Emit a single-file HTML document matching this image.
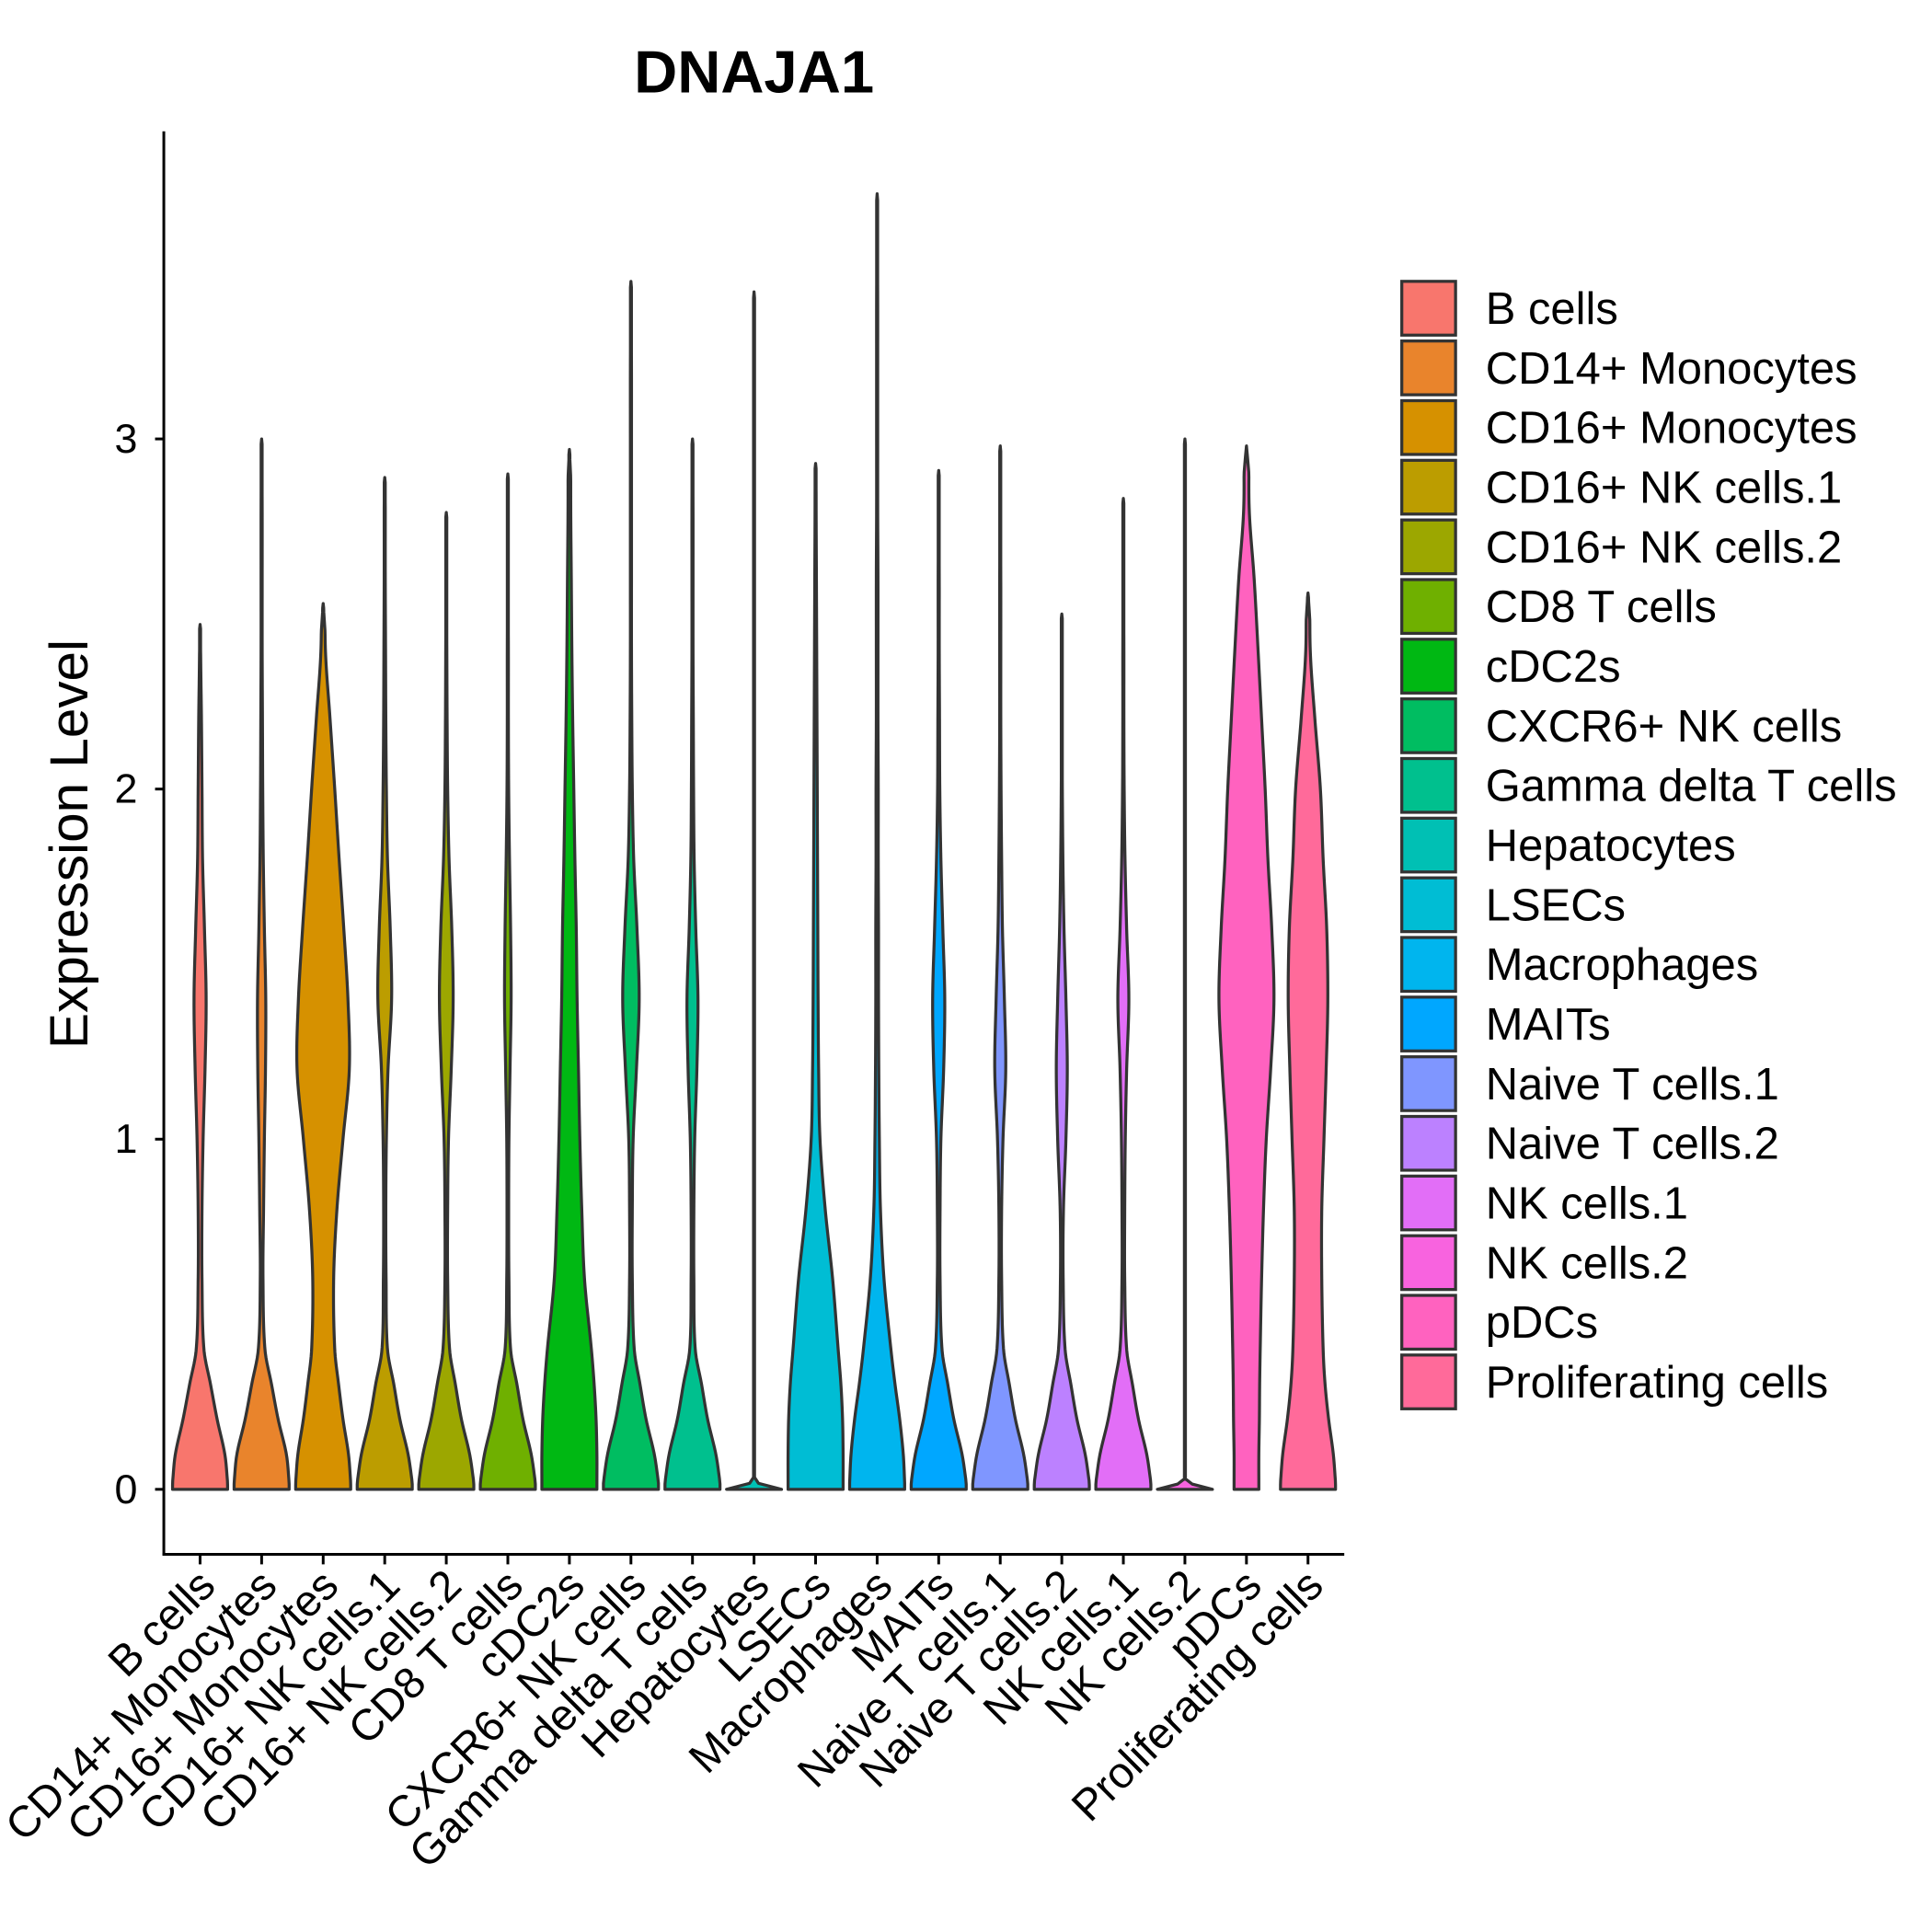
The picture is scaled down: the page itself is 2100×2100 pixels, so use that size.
<!DOCTYPE html>
<html><head><meta charset="utf-8"><style>html,body{margin:0;padding:0;background:#fff}svg{display:block}text{font-family:"Liberation Sans",Arial,sans-serif;fill:#000}</style></head>
<body>
<svg id="chart" width="2100" height="2100" viewBox="0 0 1545 1545" xmlns="http://www.w3.org/2000/svg">
<text x="603" y="74" font-size="48" font-weight="bold" text-anchor="middle">DNAJA1</text>
<text x="0" y="0" font-size="43" text-anchor="middle" transform="translate(70,675) rotate(-90)">Expression Level</text>
<g id="violins"></g>
<line x1="131" y1="105" x2="131" y2="1244" stroke="#000" stroke-width="2.2"/>
<line x1="130" y1="1243" x2="1075" y2="1243" stroke="#000" stroke-width="2.2"/>
<g id="yticks"></g>
<g id="xticks"></g>
<g id="legend"></g>
</svg>
<script>
const categories=["B cells","CD14+ Monocytes","CD16+ Monocytes","CD16+ NK cells.1","CD16+ NK cells.2","CD8 T cells","cDC2s","CXCR6+ NK cells","Gamma delta T cells","Hepatocytes","LSECs","Macrophages","MAITs","Naive T cells.1","Naive T cells.2","NK cells.1","NK cells.2","pDCs","Proliferating cells"];
const colors=["#F8766D","#E9842C","#D69100","#BC9D00","#9CA700","#6FB000","#00B813","#00BD61","#00C08E","#00C0B4","#00BDD4","#00B5EE","#00A7FF","#7F96FF","#BC81FF","#E26EF7","#F863DF","#FF62BF","#FF6A9A"];
const maxValues=[2.47,3.0,2.53,2.89,2.79,2.9,2.97,3.45,3.0,3.42,2.93,3.7,2.91,2.98,2.5,2.83,3.0,2.98,2.56];
const yGrid=[0,0.02,0.1,0.2,0.3,0.4,0.6,0.8,1.0,1.2,1.4,1.6,1.8,2.0,2.2,2.4,2.6,2.8,3.0,3.2,3.4,3.6];
const densities=[
[1,1,.9,.62,.38,.14,.07,.07,.11,.18,.22,.16,.09,.07,.05,.02],
[1,1,.9,.6,.36,.12,.05,.07,.1,.14,.15,.1,.06,.04,.03,.02,.02,.02,.01],
[1,1,.92,.72,.56,.42,.38,.5,.72,.95,.9,.75,.58,.42,.25,.08],
[1,1,.85,.55,.33,.1,.05,.04,.06,.12,.25,.2,.1,.06,.04,.03,.02,.02],
[1,1,.85,.55,.33,.12,.05,.05,.08,.18,.25,.2,.1,.05,.03,.02,.01],
[1,1,.85,.55,.33,.1,.04,.03,.04,.08,.12,.1,.06,.03,.02,.02,.01],
[1,1,1,.97,.9,.8,.55,.45,.38,.33,.28,.25,.2,.16,.12,.09,.07,.05],
[1,1,.85,.55,.33,.12,.05,.05,.08,.2,.3,.22,.1,.05,.03,.02,.02,.02,.02,.02,.01],
[1,1,.85,.55,.33,.1,.05,.05,.08,.16,.2,.12,.06,.04,.03,.02,.02,.02,.01],
[1,.02,.01,.01,.01,.01,.01,.01,.01,.01,.01,.01,.01,.01,.01,.01,.01,.01,.01,.01,.01],
[1,1,1,.98,.92,.82,.62,.35,.16,.11,.09,.08,.07,.06,.05,.04,.03,.02],
[1,1,.95,.82,.65,.5,.25,.12,.08,.06,.05,.05,.04,.04,.03,.03,.03,.02,.02,.02,.02,.01],
[1,1,.85,.55,.33,.12,.05,.05,.08,.18,.22,.15,.08,.04,.03,.02,.02,.01],
[1,1,.85,.55,.33,.12,.05,.05,.1,.2,.15,.08,.05,.03,.02,.02,.02,.01],
[1,1,.85,.55,.33,.12,.05,.06,.15,.2,.15,.08,.04,.02,.01],
[1,1,.85,.55,.33,.12,.05,.05,.07,.12,.2,.12,.06,.03,.02,.02,.01],
[1,.02,.01,.01,.01,.01,.01,.01,.01,.01,.01,.01,.01,.01,.01,.01,.01,.01,.01],
[.45,.45,.45,.47,.48,.5,.55,.62,.72,.88,1,.92,.78,.68,.55,.42,.28,.1],
[1,1,.92,.75,.62,.55,.5,.5,.58,.66,.72,.68,.55,.45,.25,.08]
];
const yTicks=[0,1,2,3];
const NS="http://www.w3.org/2000/svg";
const yScale=v=>1191-280*v;
const xScale=i=>160+i*(1046-160)/(categories.length-1);
const HW=22;
function val(d,k){k=Math.max(0,Math.min(yGrid.length-1,k));return k<d.length?d[k]:d[d.length-1];}
function dens(d,v){
  for(let k=0;k<yGrid.length-1;k++){
    if(v<=yGrid[k+1]){
      const x0=yGrid[k],x1=yGrid[k+1],h=x1-x0,t=(v-x0)/h;
      const p0=val(d,k),p1=val(d,k+1);
      const xm=yGrid[Math.max(0,k-1)],xp=yGrid[Math.min(yGrid.length-1,k+2)];
      let m0=(k>0)?(p1-val(d,k-1))/(x1-xm):(p1-p0)/h;
      let m1=(k+2<yGrid.length)?(val(d,k+2)-p0)/(xp-x0):(p1-p0)/h;
      if(k===0){m0=(p1-p0)/h;m1=(p1-p0)/h;}
      if(k===1){m0=(p1-p0)/h;}
      const t2=t*t,t3=t2*t;
      const r=(2*t3-3*t2+1)*p0+(t3-2*t2+t)*h*m0+(-2*t3+3*t2)*p1+(t3-t2)*h*m1;
      return Math.max(0,Math.min(Math.max(p0,p1)*1.05,r));
    }
  }
  return d[d.length-1];
}
const vg=document.getElementById('violins');
categories.forEach((c,i)=>{
  const cx=xScale(i), mx=maxValues[i], d=densities[i];
  const N=200, R=[], L=[];
  for(let s=0;s<=N;s++){
    const v=mx*s/N;
    let w=dens(d,v)*HW;
    const taper=Math.min(1,(mx-v)/0.08);
    w*=Math.max(0,taper);
    w=Math.max(w,0.4);
    if(s===N) w=0;
    R.push((cx+w).toFixed(2)+","+yScale(v).toFixed(2));
    L.unshift((cx-w).toFixed(2)+","+yScale(v).toFixed(2));
  }
  const p=document.createElementNS(NS,'path');
  p.setAttribute('d','M'+R.join(' L')+' L'+L.join(' L')+' Z');
  p.setAttribute('fill',colors[i]);p.setAttribute('stroke','#333');p.setAttribute('stroke-width','2.4');p.setAttribute('stroke-linejoin','round');
  
  
  vg.appendChild(p);
});
const yt=document.getElementById('yticks');
yTicks.forEach(t=>{
  const l=document.createElementNS(NS,'line');
  l.setAttribute('x1',124);l.setAttribute('x2',131);l.setAttribute('y1',yScale(t));l.setAttribute('y2',yScale(t));l.setAttribute('stroke','#000');l.setAttribute('stroke-width','2.2');
  
  
  yt.appendChild(l);
  const tx=document.createElementNS(NS,'text');
  tx.setAttribute('x',110);tx.setAttribute('y',yScale(t)+11);tx.setAttribute('font-size','33');tx.setAttribute('text-anchor','end');tx.textContent=t;
  
  
  yt.appendChild(tx);
});
const xt=document.getElementById('xticks');
categories.forEach((c,i)=>{
  const x=xScale(i);
  const l=document.createElementNS(NS,'line');
  l.setAttribute('x1',x);l.setAttribute('x2',x);l.setAttribute('y1',1243);l.setAttribute('y2',1251);l.setAttribute('stroke','#000');l.setAttribute('stroke-width','2.2');
  
  
  xt.appendChild(l);
  const tx=document.createElementNS(NS,'text');
  tx.setAttribute('font-size','35');tx.setAttribute('text-anchor','end');
  tx.setAttribute('transform','translate('+(x+14)+',1270) rotate(-45)');
  tx.textContent=c;
  
  
  xt.appendChild(tx);
});
const lg=document.getElementById('legend');
categories.forEach((c,i)=>{
  const y=224+i*47.7;
  const r=document.createElementNS(NS,'rect');
  r.setAttribute('x',1121);r.setAttribute('y',y+1);r.setAttribute('width',43);r.setAttribute('height',43);r.setAttribute('fill',colors[i]);r.setAttribute('stroke','#333');r.setAttribute('stroke-width','2.4');
  
  
  lg.appendChild(r);
  const tx=document.createElementNS(NS,'text');
  tx.setAttribute('x',1188);tx.setAttribute('y',y+35);tx.setAttribute('font-size','36');tx.textContent=c;
  
  
  lg.appendChild(tx);
});
</script>
</body></html>
